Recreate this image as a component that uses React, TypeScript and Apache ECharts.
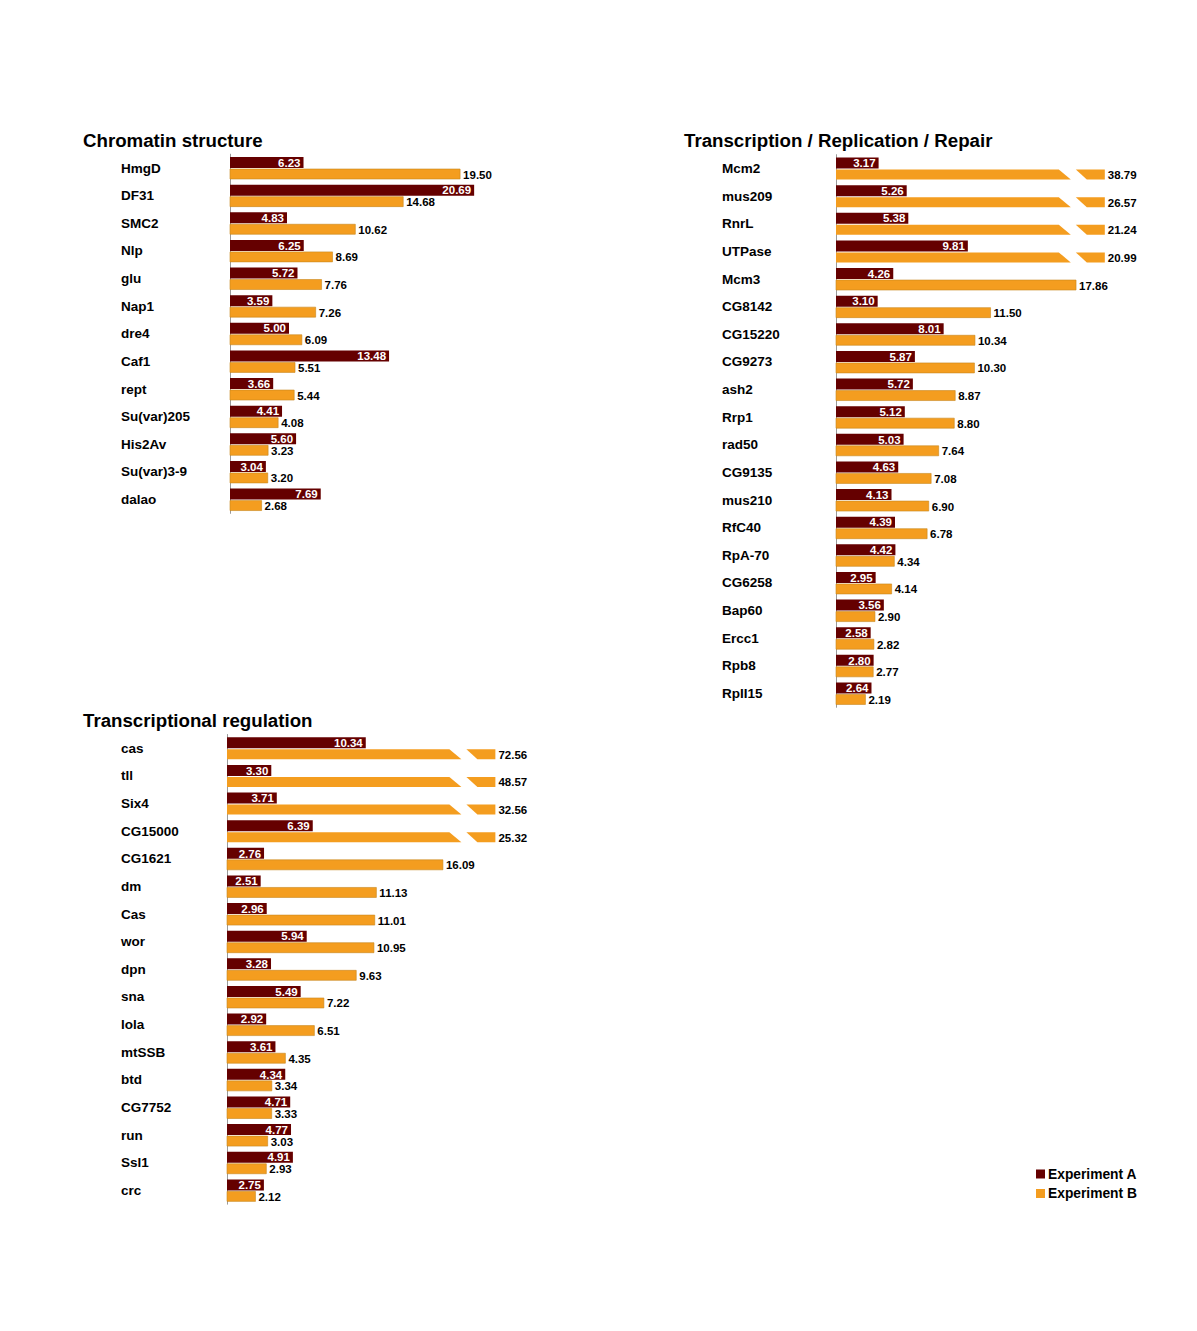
import React, { useEffect, useRef } from "react";
import * as echarts from "echarts";

// ---------- data ----------
const chromatinGenes = ["HmgD", "DF31", "SMC2", "Nlp", "glu", "Nap1", "dre4", "Caf1", "rept", "Su(var)205", "His2Av", "Su(var)3-9", "dalao"];
const chromatinA = [6.23, 20.69, 4.83, 6.25, 5.72, 3.59, 5.0, 13.48, 3.66, 4.41, 5.6, 3.04, 7.69];
const chromatinB = [19.5, 14.68, 10.62, 8.69, 7.76, 7.26, 6.09, 5.51, 5.44, 4.08, 3.23, 3.2, 2.68];

const repairGenes = ["Mcm2", "mus209", "RnrL", "UTPase", "Mcm3", "CG8142", "CG15220", "CG9273", "ash2", "Rrp1", "rad50", "CG9135", "mus210", "RfC40", "RpA-70", "CG6258", "Bap60", "Ercc1", "Rpb8", "RpII15"];
const repairA = [3.17, 5.26, 5.38, 9.81, 4.26, 3.1, 8.01, 5.87, 5.72, 5.12, 5.03, 4.63, 4.13, 4.39, 4.42, 2.95, 3.56, 2.58, 2.8, 2.64];
const repairB = [38.79, 26.57, 21.24, 20.99, 17.86, 11.5, 10.34, 10.3, 8.87, 8.8, 7.64, 7.08, 6.9, 6.78, 4.34, 4.14, 2.9, 2.82, 2.77, 2.19];

const regGenes = ["cas", "tll", "Six4", "CG15000", "CG1621", "dm", "Cas", "wor", "dpn", "sna", "lola", "mtSSB", "btd", "CG7752", "run", "Ssl1", "crc"];
const regA = [10.34, 3.3, 3.71, 6.39, 2.76, 2.51, 2.96, 5.94, 3.28, 5.49, 2.92, 3.61, 4.34, 4.71, 4.77, 4.91, 2.75];
const regB = [72.56, 48.57, 32.56, 25.32, 16.09, 11.13, 11.01, 10.95, 9.63, 7.22, 6.51, 4.35, 3.34, 3.33, 3.03, 2.93, 2.12];

const panelTitles = ["Chromatin structure", "Transcription / Replication / Repair", "Transcriptional regulation"];
const seriesNames = ["Experiment A", "Experiment B"];

const COLOR_A = "#650000";
const COLOR_B = "#f49d1f";
const FONT = '"Liberation Sans", Arial, Helvetica, sans-serif';
const ROW = 27.63;
const BREAK_AT = 20;

export default function App() {
  const ref = useRef<HTMLDivElement>(null);

  useEffect(() => {
    if (!ref.current) return;
    const chart = echarts.init(ref.current, null, { renderer: "svg" });

    const panels = [
      { genes: chromatinGenes, a: chromatinA, b: chromatinB, left: 230, top: 168 - ROW / 2, pxPerUnit: 11.8, margin: 109, brk: Infinity, titleX: 83, titleY: 142 },
      { genes: repairGenes, a: repairA, b: repairB, left: 836, top: 168.5 - ROW / 2, pxPerUnit: 13.44, margin: 114, brk: BREAK_AT, titleX: 684, titleY: 142 },
      { genes: regGenes, a: regA, b: regB, left: 227, top: 748.3 - ROW / 2, pxPerUnit: 13.42, margin: 106, brk: BREAK_AT, titleX: 83, titleY: 722 },
    ];
    const MAX = 25;

    const grid = panels.map((p) => ({
      left: p.left,
      top: p.top,
      width: MAX * p.pxPerUnit,
      height: p.genes.length * ROW,
      containLabel: false,
    }));
    const xAxis = panels.map((_, i) => ({
      type: "value",
      gridIndex: i,
      min: 0,
      max: MAX,
      show: false,
    }));
    const yAxis = panels.map((p, i) => ({
      type: "category",
      gridIndex: i,
      inverse: true,
      data: p.genes,
      axisLine: { show: true, lineStyle: { color: "#9a9a9a", width: 1 } },
      axisTick: { show: false },
      splitLine: { show: false },
      axisLabel: {
        align: "left",
        margin: p.margin,
        color: "#000",
        fontWeight: "bold",
        fontSize: 13.5,
        fontFamily: FONT,
        padding: [6, 0, 0, 0],
      },
    }));

    const series: any[] = [];
    panels.forEach((p, i) => {
      series.push({
        type: "custom",
        name: seriesNames[0],
        xAxisIndex: i,
        yAxisIndex: i,
        itemStyle: { color: COLOR_A },
        encode: { x: 1, y: 0 },
        data: p.a.map((v, k) => [k, v]),
        renderItem: (params: any, api: any) => {
          const cat = api.value(0);
          const v = api.value(1);
          const [x0, c] = api.coord([0, cat]);
          const [x1] = api.coord([v, cat]);
          return {
            type: "group",
            children: [
              { type: "rect", shape: { x: x0, y: c - 11, width: x1 - x0, height: 11 }, style: { fill: COLOR_A } },
              {
                type: "text",
                x: x1 - 3,
                y: c - 5.3,
                style: { text: v.toFixed(2), fill: "#ffffff", font: `bold 11.5px ${FONT}`, align: "right", verticalAlign: "middle" },
              },
            ],
          };
        },
      });
      series.push({
        type: "custom",
        name: seriesNames[1],
        xAxisIndex: i,
        yAxisIndex: i,
        itemStyle: { color: COLOR_B },
        encode: { x: 1, y: 0 },
        data: p.b.map((v, k) => [k, v]),
        renderItem: (params: any, api: any) => {
          const cat = api.value(0);
          const v = api.value(1);
          const [x0, c] = api.coord([0, cat]);
          const t = c + 1;
          const b = c + 11;
          const children: any[] = [];
          let xe: number;
          if (v > p.brk) {
            xe = api.coord([p.brk, cat])[0];
            children.push({
              type: "polygon",
              shape: { points: [[x0, t], [xe - 46, t], [xe - 34, b], [x0, b]] },
              style: { fill: COLOR_B },
            });
            children.push({
              type: "polygon",
              shape: { points: [[xe - 29, t], [xe, t], [xe, b], [xe - 18, b]] },
              style: { fill: COLOR_B },
            });
          } else {
            xe = api.coord([v, cat])[0];
            children.push({
              type: "rect",
              shape: { x: x0, y: t, width: xe - x0, height: b - t },
              style: { fill: COLOR_B, stroke: "#c8861c", lineWidth: 0.6 },
            });
          }
          children.push({
            type: "text",
            x: xe + 3,
            y: c + 6.5,
            style: { text: v.toFixed(2), fill: "#000000", font: `bold 11.5px ${FONT}`, align: "left", verticalAlign: "middle" },
          });
          return { type: "group", children };
        },
      });
    });

    const graphic = panels.map((p, i) => ({
      type: "text",
      left: p.titleX,
      top: p.titleY - 11,
      style: { text: panelTitles[i], fill: "#000", font: `bold 18.7px ${FONT}` },
    }));

    chart.setOption({
      animation: false,
      backgroundColor: "#ffffff",
      grid,
      xAxis,
      yAxis,
      series,
      graphic,
      legend: {
        data: seriesNames,
        orient: "vertical",
        left: 1036,
        top: 1167,
        icon: "rect",
        itemWidth: 9,
        itemHeight: 9,
        itemGap: 5.5,
        padding: 0,
        textStyle: { color: "#000", fontWeight: "bold", fontSize: 13.8, fontFamily: FONT, padding: [0, 0, 0, -2] },
        selectedMode: false,
      },
    });

    return () => chart.dispose();
  }, []);

  return <div ref={ref} style={{ position: "absolute", left: 0, top: 0, width: 1197, height: 1331, background: "#fff" }} />;
}
